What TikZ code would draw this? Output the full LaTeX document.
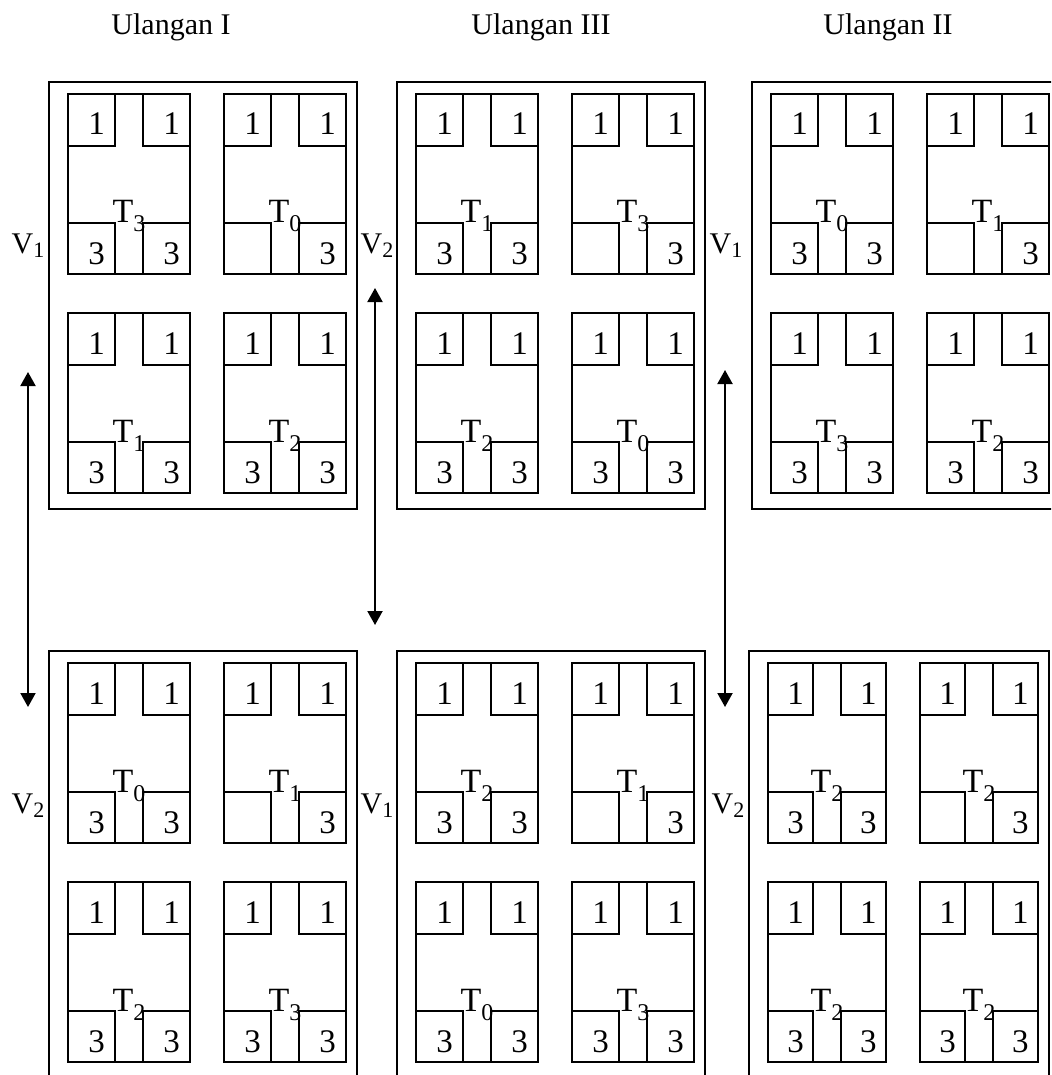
\documentclass[tikz,border=0pt]{standalone}
\usepackage{fontspec}
\setmainfont{Liberation Serif}
\usetikzlibrary{arrows.meta}

% one plot: x, y, width, subscript of T, digit of lower-left box, name
\newcommand{\petak}[6]{%
  \pgfmathsetmacro\pa{#1}\pgfmathsetmacro\pb{#2}
  \pgfmathsetmacro\pw{#3}\pgfmathsetmacro\bw{0.385*\pw}
  \pgfmathsetmacro\pr{\pa+\pw-\bw}
  \draw[plotline] (\pa,\pb) rectangle ++(\pw,180);
  \draw[plotline] (\pa,\pb) rectangle ++(\bw,52);
  \draw[plotline] (\pr,\pb) rectangle ++(\bw,52);
  \draw[plotline] (\pa,\pb+129) rectangle ++(\bw,51);
  \draw[plotline] (\pr,\pb+129) rectangle ++(\bw,51);
  \node[angka] (#6-1a) at (\pa+0.61*\bw,\pb+41) {1};
  \node[angka] (#6-1b) at (\pr+0.61*\bw,\pb+41) {1};
  \node[angka] (#6-3a) at (\pa+0.61*\bw,\pb+170) {#5};
  \node[angka] (#6-3b) at (\pr+0.61*\bw,\pb+170) {3};
  \node[tlab] (#6-t) at (\pa+0.5*\pw,\pb+129) {T\raisebox{-9pt}{\fontsize{24}{24}\selectfont #4}};
}

\begin{document}
\begin{tikzpicture}[x=1pt, y=-1pt,
  plotline/.style={line width=1.9pt},
  panel/.style={line width=1.7pt},
  angka/.style={font=\fontsize{33}{33}\selectfont, anchor=base, inner sep=0pt},
  tlab/.style={font=\fontsize{34}{34}\selectfont, anchor=base, inner sep=0pt},
  judul/.style={font=\fontsize{30}{30}\selectfont, anchor=base, inner sep=0pt},
  vlab/.style={font=\fontsize{30}{30}\selectfont, anchor=base, inner sep=0pt},
  dbl/.style={{Triangle[length=14pt,width=15pt]}-{Triangle[length=14pt,width=15pt]}, line width=2pt}]
  \useasboundingbox (0,0) rectangle (1051,1075);
  \clip (0,0) rectangle (1051,1075);

  % headers
  \node[judul] (u1) at (171,35) {Ulangan I};
  \node[judul] (u3) at (541,35) {Ulangan III};
  \node[judul] (u2) at (888,35) {Ulangan II};

  % panels: left/top/plot width/offset of 2nd column/T labels
  \foreach \px/\py/\w/\dx/\ta/\tb/\tc/\td [count=\i] in
    {49/82/122/175/3/0/1/2, 397/82/122/175/1/3/2/0, 752/82/122/175/0/1/3/2,
     49/651/122/175/0/1/2/3, 397/651/122/175/2/1/0/3, 749/651/118/171/2/2/2/2} {
    \draw[panel] (\px,\py) rectangle (\px+\dx+\w+11,\py+427);
    \petak{\px+19}{\py+12}{\w}{\ta}{3}{p\i a}
    \petak{\px+\dx}{\py+12}{\w}{\tb}{}{p\i b}
    \petak{\px+19}{\py+231}{\w}{\tc}{3}{p\i c}
    \petak{\px+\dx}{\py+231}{\w}{\td}{3}{p\i d}
  }

  % varieties
  \node[vlab] (v1) at (28,254) {V\raisebox{-4pt}{\fontsize{22}{22}\selectfont 1}};
  \node[vlab] (v2) at (377,254) {V\raisebox{-4pt}{\fontsize{22}{22}\selectfont 2}};
  \node[vlab] (v3) at (726,254) {V\raisebox{-4pt}{\fontsize{22}{22}\selectfont 1}};
  \node[vlab] (v4) at (28,813) {V\raisebox{-4pt}{\fontsize{22}{22}\selectfont 2}};
  \node[vlab] (v5) at (377,813) {V\raisebox{-4pt}{\fontsize{22}{22}\selectfont 1}};
  \node[vlab] (v6) at (728,813) {V\raisebox{-4pt}{\fontsize{22}{22}\selectfont 2}};

  % swap arrows
  \coordinate (a1top) at (28,372);
  \coordinate (a1bot) at (28,707);
  \coordinate (a2top) at (375,288);
  \coordinate (a2bot) at (375,625);
  \coordinate (a3top) at (725,370);
  \coordinate (a3bot) at (725,707);
  \draw[dbl] (a1top) -- (a1bot);
  \draw[dbl] (a2top) -- (a2bot);
  \draw[dbl] (a3top) -- (a3bot);
\end{tikzpicture}
\end{document}
